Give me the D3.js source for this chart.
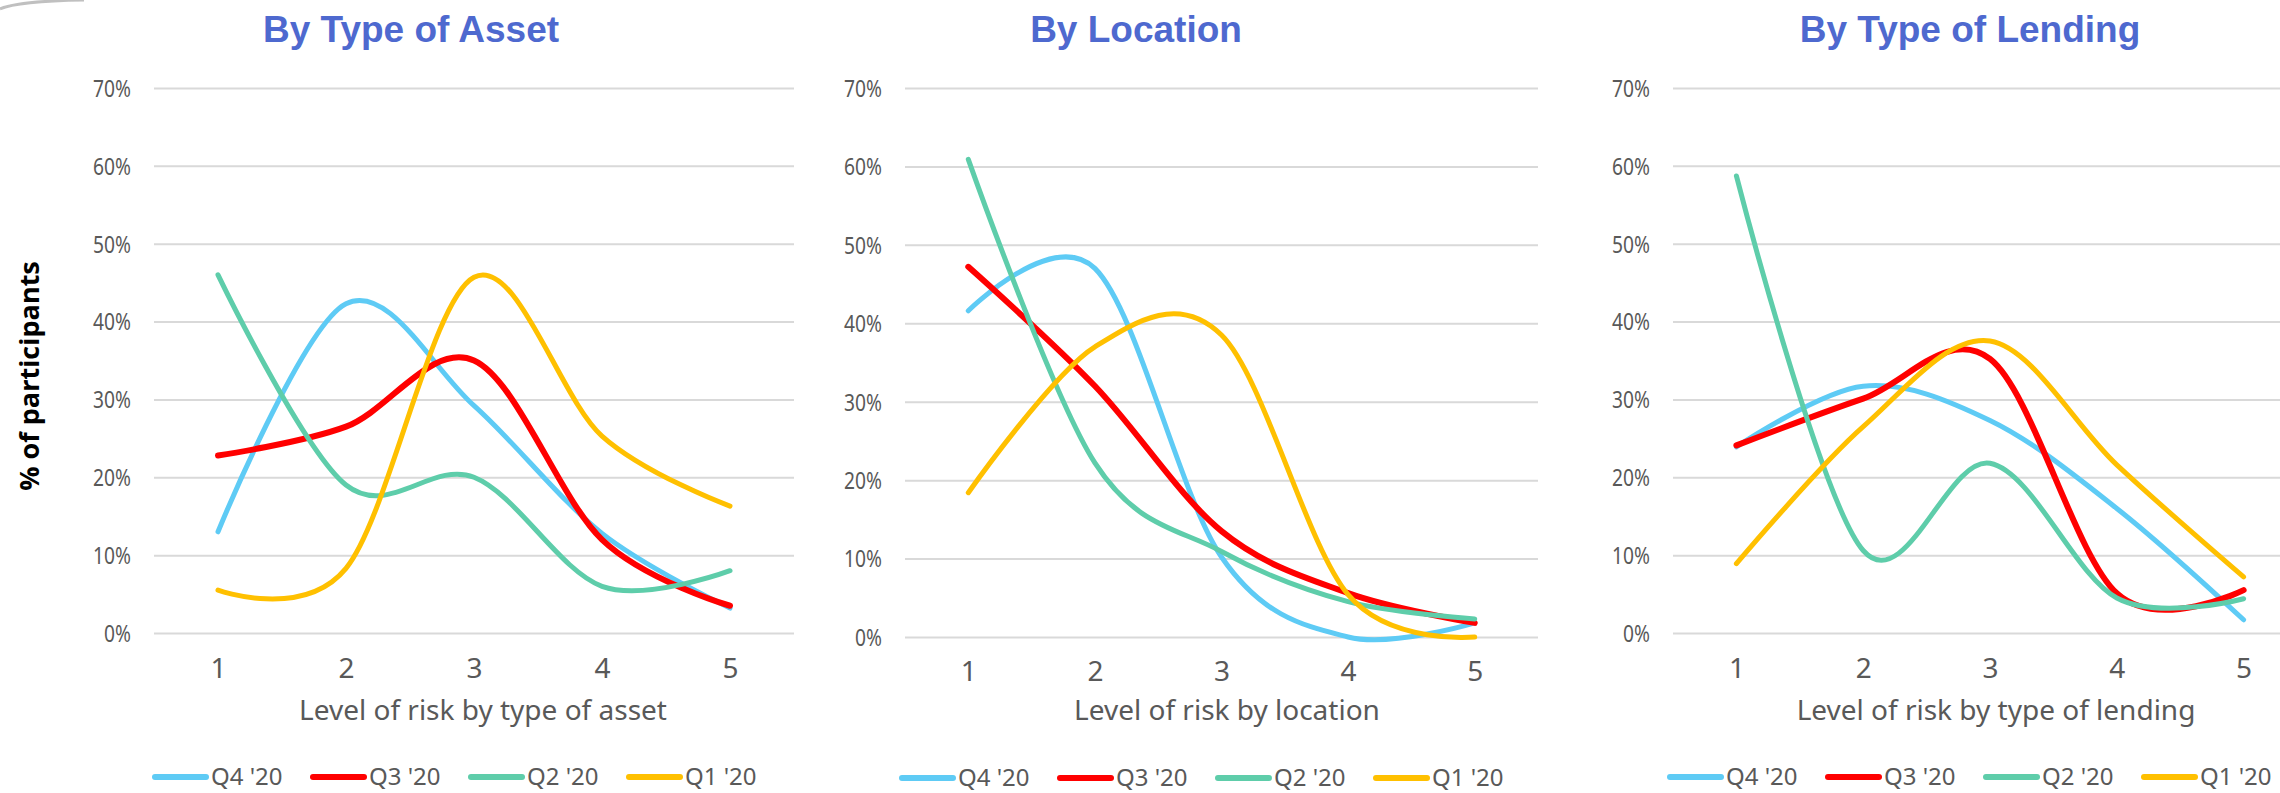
<!DOCTYPE html>
<html>
<head>
<meta charset="utf-8">
<script src="https://cdn.jsdelivr.net/npm/d3@7"></script>
<style>
  html, body { margin: 0; padding: 0; background: #ffffff; }
  svg { display: block; }
</style>
</head>
<body>
<svg id="chart" width="2280" height="793"></svg>
<script>
// Risk levels on the x axis and the quarterly survey series
const levels = [1, 2, 3, 4, 5];
const seriesNames = ["Q4 '20", "Q3 '20", "Q2 '20", "Q1 '20"];
const seriesColors = ["#5ECBF5", "#FF0000", "#5ECDAA", "#FFC000"];
const yTickValues = [0, 10, 20, 30, 40, 50, 60, 70];

const panelTitles = ["By Type of Asset", "By Location", "By Type of Lending"];
const axisTitles = [
  "Level of risk by type of asset",
  "Level of risk by location",
  "Level of risk by type of lending"
];
const yAxisTitle = "% of participants";

// % of participants per risk level — by type of asset
const assetQ4 = [13.0, 42.3, 29.2, 12.8, 3.2];
const assetQ3 = [22.8, 26.5, 35.0, 12.0, 3.5];
const assetQ2 = [46.0, 19.0, 20.0, 6.0, 8.0];
const assetQ1 = [5.5, 8.3, 45.7, 25.3, 16.3];

// % of participants per risk level — by location
const locationQ4 = [41.6, 47.0, 10.2, 0.0, 1.8];
const locationQ3 = [47.2, 32.0, 13.5, 5.6, 1.8];
const locationQ2 = [60.9, 22.2, 10.9, 4.5, 2.3];
const locationQ1 = [18.4, 37.0, 38.5, 5.4, 0.0];

// % of participants per risk level — by type of lending
const lendingQ4 = [23.9, 31.7, 27.3, 16.0, 1.7];
const lendingQ3 = [24.1, 30.1, 35.2, 5.1, 5.5];
const lendingQ2 = [58.7, 10.6, 21.8, 4.5, 4.4];
const lendingQ1 = [8.9, 26.5, 37.5, 21.6, 7.2];

const panelSeries = [
  [assetQ4, assetQ3, assetQ2, assetQ1],
  [locationQ4, locationQ3, locationQ2, locationQ1],
  [lendingQ4, lendingQ3, lendingQ2, lendingQ1]
];

// Page geometry for each of the three small multiples
const layouts = [
  { left: 154, right: 794, top: 88, bottom: 633, titleX: 411, xTitleX: 483, legendX: 152, legendY: 777, tickY: 668 },
  { left: 905, right: 1538, top: 88, bottom: 637, titleX: 1136, xTitleX: 1227, legendX: 899, legendY: 778, tickY: 671 },
  { left: 1673, right: 2307, top: 88, bottom: 633, titleX: 1970, xTitleX: 1996, legendX: 1667, legendY: 777, tickY: 668 }
];

const textGray = "#595959";
const gridGray = "#D9D9D9";
const tickScaleX = 0.8;

const svg = d3.select("#chart");
svg.append("rect").attr("width", 2280).attr("height", 793).attr("fill", "#ffffff");

// faint slide-corner shading in the top-left
svg.append("path")
  .attr("d", "M0,9 Q18,1 84,0")
  .attr("fill", "none")
  .attr("stroke", "#8c8c8c")
  .attr("stroke-width", 3)
  .attr("opacity", 0.55);

// shared y-axis title
svg.append("text")
  .attr("transform", "translate(39,376) rotate(-90)")
  .attr("text-anchor", "middle")
  .attr("font-family", "'Open Sans', 'DejaVu Sans', sans-serif")
  .attr("font-weight", 700)
  .attr("font-size", 27)
  .attr("fill", "#000000")
  .text(yAxisTitle);

panelSeries.forEach((seriesList, p) => {
  const L = layouts[p];
  const g = svg.append("g");

  const x = d3.scalePoint().domain(levels).range([L.left, L.right]).padding(0.5);
  const y = d3.scaleLinear().domain([0, 70]).range([L.bottom, L.top]);

  // title
  g.append("text")
    .attr("x", L.titleX)
    .attr("y", 42)
    .attr("text-anchor", "middle")
    .attr("font-family", "'Liberation Sans', Arial, sans-serif")
    .attr("font-weight", 700)
    .attr("font-size", 37)
    .attr("fill", "#4E69CF")
    .text(panelTitles[p]);

  // y axis with horizontal gridlines
  const yAxis = d3.axisLeft(y)
    .tickValues(yTickValues)
    .tickFormat(d => d + "%")
    .tickSizeInner(-(L.right - L.left))
    .tickSizeOuter(0)
    .tickPadding(23);

  const yg = g.append("g").attr("transform", `translate(${L.left},0)`).call(yAxis);
  yg.select(".domain").remove();
  yg.selectAll(".tick line").attr("stroke", gridGray).attr("stroke-width", 2);
  yg.selectAll(".tick text")
    .attr("font-family", "'Noto Sans', 'Open Sans', sans-serif")
    .attr("font-size", 24)
    .attr("fill", textGray)
    .attr("transform", `scale(${tickScaleX},1)`)
    .attr("x", -23 / tickScaleX)
    .attr("dy", "0.35em");

  // x axis category labels
  const xAxis = d3.axisBottom(x).tickSize(0).tickPadding(0);
  const xg = g.append("g").attr("transform", `translate(0,${L.bottom})`).call(xAxis);
  xg.select(".domain").remove();
  xg.selectAll(".tick text")
    .attr("font-family", "'Noto Sans', 'Open Sans', sans-serif")
    .attr("font-size", 28)
    .attr("fill", textGray)
    .attr("y", L.tickY - L.bottom)
    .attr("dy", "0.35em");

  // x axis title
  g.append("text")
    .attr("x", L.xTitleX)
    .attr("y", 720)
    .attr("text-anchor", "middle")
    .attr("font-family", "'Noto Sans', 'Open Sans', sans-serif")
    .attr("font-size", 28)
    .attr("fill", textGray)
    .text(axisTitles[p]);

  // smoothed series lines
  const line = d3.line()
    .x((d, i) => x(levels[i]))
    .y(d => y(d))
    .curve(d3.curveCardinal.tension(0));

  seriesList.forEach((values, s) => {
    g.append("path")
      .datum(values)
      .attr("d", line)
      .attr("fill", "none")
      .attr("stroke", seriesColors[s])
      .attr("stroke-width", s === 1 ? 6 : 5)
      .attr("stroke-linecap", "round")
      .attr("stroke-linejoin", "round");
  });

  // legend
  const legend = g.append("g").attr("transform", `translate(${L.legendX},${L.legendY})`);
  seriesNames.forEach((name, s) => {
    const item = legend.append("g").attr("transform", `translate(${s * 158},0)`);
    item.append("line")
      .attr("x1", 3).attr("x2", 54)
      .attr("y1", 0).attr("y2", 0)
      .attr("stroke", seriesColors[s])
      .attr("stroke-width", 6)
      .attr("stroke-linecap", "round");
    item.append("text")
      .attr("x", 59)
      .attr("y", 0)
      .attr("dy", "0.35em")
      .attr("font-family", "'Noto Sans', 'Open Sans', sans-serif")
      .attr("font-size", 24)
      .attr("fill", textGray)
      .text(name);
  });
});
</script>
</body>
</html>
